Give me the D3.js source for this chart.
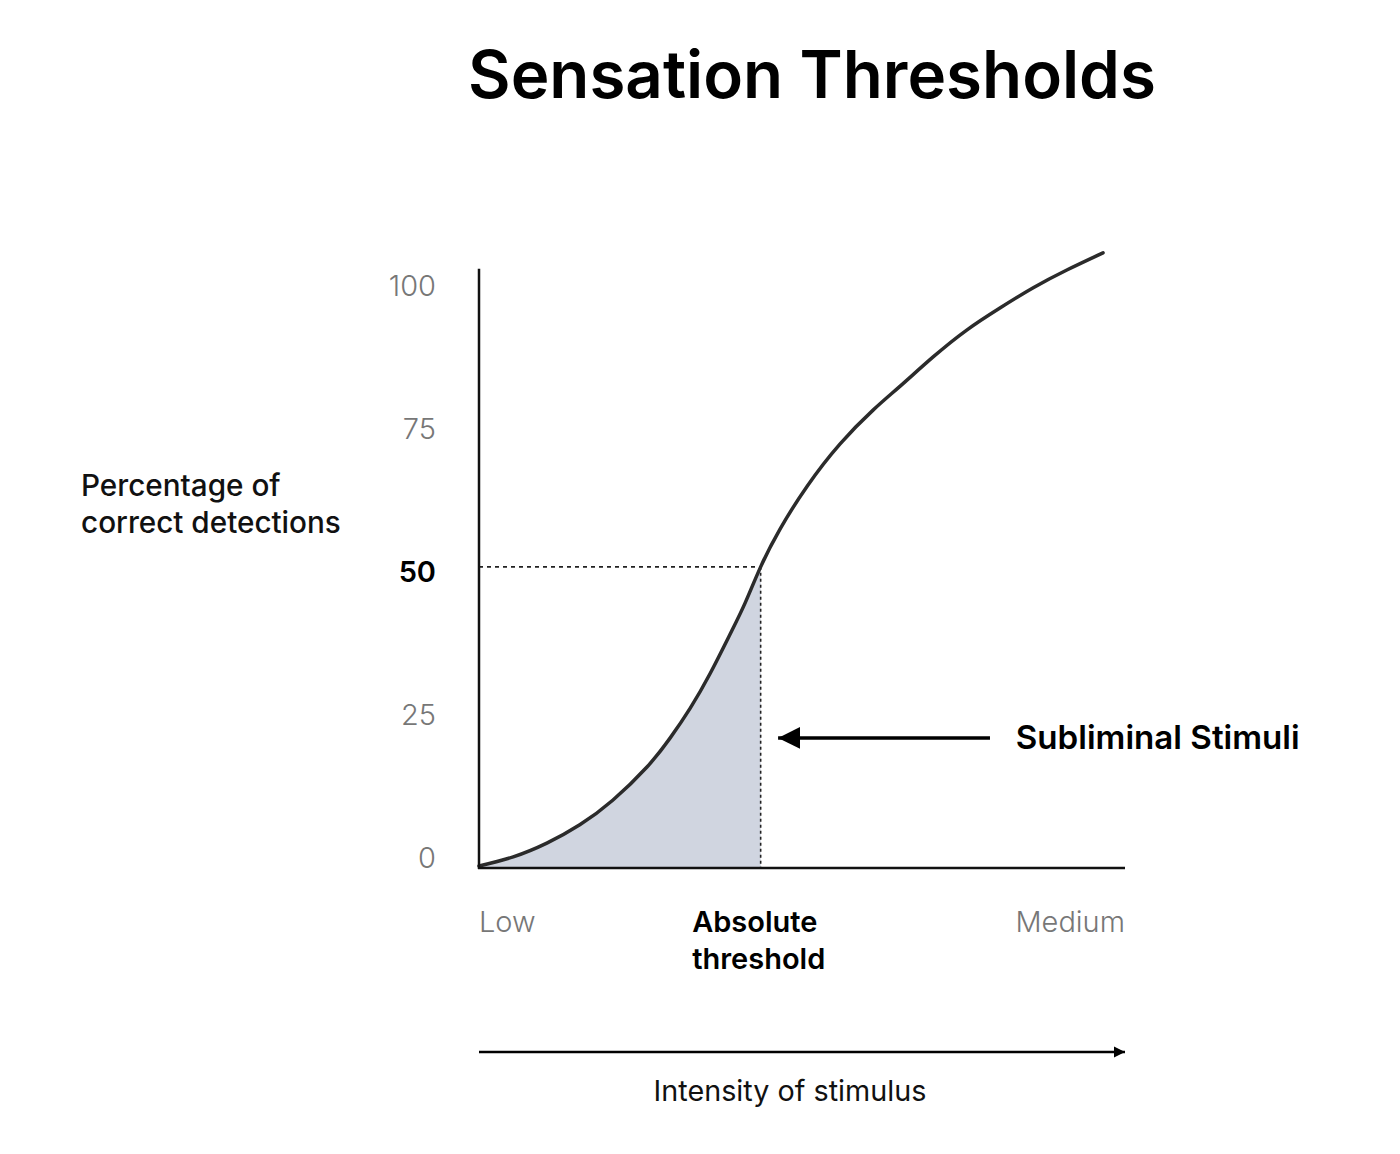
<!DOCTYPE html>
<html lang="en">
<head>
<meta charset="UTF-8">
<title>Sensation Thresholds</title>
<script src="https://cdn.jsdelivr.net/npm/d3@7"></script>
<style>
  body { margin: 0; background: #fff; }
  svg { display: block; font-family: Inter, "Noto Sans", sans-serif; }
</style>
</head>
<body>
<svg id="chart" width="1400" height="1154"></svg>
<script>
// data: x = stimulus intensity (0-100), y = % correct detections
var curveX = [0, 5.3, 10.5, 15.6, 20.7, 26.0, 29.6, 32.7, 35.8, 38.9, 41.2, 43.6,
              46.6, 50.8, 55.9, 61.0, 65.2, 70.3, 75.5, 80.7, 85.8, 91.0, 96.6];
var curveY = [-1.4, 0.2, 2.6, 5.8, 10.1, 15.9, 21.0, 26.2, 32.3, 39.2, 44.6, 50.9,
              57.5, 65.0, 72.4, 78.3, 82.5, 87.6, 92.3, 96.2, 99.7, 102.8, 105.8];
var yTicks = [0, 25, 50, 75, 100];
var xLabels = ["Low", "Absolute threshold", "Medium"];
var xLabelPos = [0, 33, 100];
var threshold = {x: 43.6, y: 50.9};
var yFloor = -1.75, yTop = 103;

var svg = d3.select("#chart");

var x = d3.scaleLinear().domain([0, 100]).range([479, 1125]);
var y = d3.scaleLinear().domain([0, 100]).range([858, 286]);

var points = curveX.map(function (d, i) { return {x: d, y: curveY[i]}; });

// fit a text selection to a width by scaling its font-size
function fit(sel, w) {
  var cur = parseFloat(sel.style("font-size"));
  var len = sel.node().getComputedTextLength();
  sel.style("font-size", (cur * w / len) + "px");
}

var defs = svg.append("defs");
defs.append("marker")
  .attr("id", "headBig")
  .attr("viewBox", "0 0 10 10")
  .attr("refX", 10).attr("refY", 5)
  .attr("markerUnits", "userSpaceOnUse")
  .attr("markerWidth", 22).attr("markerHeight", 26)
  .attr("orient", "auto")
  .append("path").attr("d", "M0,0L10,5L0,10Z").attr("fill", "#000");
defs.append("marker")
  .attr("id", "headSmall")
  .attr("viewBox", "0 0 10 10")
  .attr("refX", 10).attr("refY", 5)
  .attr("markerUnits", "userSpaceOnUse")
  .attr("markerWidth", 11).attr("markerHeight", 12)
  .attr("orient", "auto")
  .append("path").attr("d", "M0,0L10,5L0,10Z").attr("fill", "#000");
defs.append("clipPath").attr("id", "below")
  .append("rect")
  .attr("x", x(0)).attr("y", y(yTop))
  .attr("width", x(threshold.x) - x(0))
  .attr("height", y(yFloor) - y(yTop));

// title
var title = svg.append("text")
  .attr("x", 812).attr("y", 98)
  .attr("text-anchor", "middle")
  .style("font-size", "64px").style("font-weight", 600).attr("fill", "#000")
  .text("Sensation Thresholds");
fit(title, 688);

var curve = d3.curveNatural;

// shaded area below threshold
var area = d3.area()
  .x(function (d) { return x(d.x); })
  .y0(y(yFloor))
  .y1(function (d) { return y(d.y); })
  .curve(curve);

svg.append("path")
  .datum(points)
  .attr("d", area)
  .attr("clip-path", "url(#below)")
  .attr("fill", "#d0d5e0");

// dashed guides
svg.append("line")
  .attr("x1", x(0)).attr("x2", x(threshold.x))
  .attr("y1", y(threshold.y)).attr("y2", y(threshold.y))
  .attr("stroke", "#222").attr("stroke-width", 1.6).attr("stroke-dasharray", "4,4");
svg.append("line")
  .attr("x1", x(threshold.x)).attr("x2", x(threshold.x))
  .attr("y1", y(threshold.y)).attr("y2", y(yFloor))
  .attr("stroke", "#222").attr("stroke-width", 1.6).attr("stroke-dasharray", "3,3");

// curve
var line = d3.line()
  .x(function (d) { return x(d.x); })
  .y(function (d) { return y(d.y); })
  .curve(curve);

svg.append("path")
  .datum(points)
  .attr("d", line)
  .attr("fill", "none")
  .attr("stroke", "#2b2b2b").attr("stroke-width", 3.5).attr("stroke-linecap", "round");

// axes lines
svg.append("line")
  .attr("x1", x(0)).attr("x2", x(0))
  .attr("y1", y(yTop)).attr("y2", y(yFloor) + 1)
  .attr("stroke", "#111").attr("stroke-width", 2.5);
svg.append("line")
  .attr("x1", x(0) - 1).attr("x2", x(100))
  .attr("y1", y(yFloor)).attr("y2", y(yFloor))
  .attr("stroke", "#111").attr("stroke-width", 2.5);

// y tick labels
var yAxis = svg.append("g")
  .attr("transform", "translate(" + x(0) + ",0)")
  .call(d3.axisLeft(y).tickValues(yTicks).tickSize(0).tickPadding(43));
yAxis.select(".domain").remove();
yAxis.selectAll("text")
  .style("font-family", "Inter, sans-serif")
  .style("font-size", "29px")
  .style("font-weight", function (d) { return d === 50 ? 600 : 300; })
  .attr("fill", function (d) { return d === 50 ? "#000" : "#777"; });

// y title
var yTitle = svg.append("text")
  .attr("x", 81).attr("y", 496)
  .style("font-size", "28px").style("font-weight", 500).attr("fill", "#111");
yTitle.append("tspan").attr("x", 81).text("Percentage of");
yTitle.append("tspan").attr("x", 81).attr("dy", 37).text("correct detections");
(function () {
  var t = yTitle.selectAll("tspan").nodes()[1];
  var cur = parseFloat(yTitle.style("font-size"));
  yTitle.style("font-size", (cur * 260 / t.getComputedTextLength()) + "px");
})();

// x labels
xLabels.forEach(function (lab, i) {
  var t = svg.append("text")
    .attr("x", x(xLabelPos[i])).attr("y", 932)
    .attr("text-anchor", i === 2 ? "end" : "start")
    .style("font-size", "29px")
    .style("font-weight", i === 1 ? 600 : 300)
    .attr("fill", i === 1 ? "#000" : "#777");
  if (i === 1) {
    var w = lab.split(" ");
    t.append("tspan").attr("x", x(xLabelPos[i])).text(w[0]);
    t.append("tspan").attr("x", x(xLabelPos[i])).attr("dy", 37).text(w[1]);
  } else {
    t.text(lab);
  }
});

// subliminal stimuli arrow
var subY = 21;
svg.append("line")
  .attr("x1", x(79.1)).attr("x2", x(46.3))
  .attr("y1", y(subY)).attr("y2", y(subY))
  .attr("stroke", "#000").attr("stroke-width", 3.5)
  .attr("marker-end", "url(#headBig)");
var sub = svg.append("text")
  .attr("x", x(83.1)).attr("y", y(subY) + 11)
  .style("font-size", "31px").style("font-weight", 600).attr("fill", "#000")
  .text("Subliminal Stimuli");
fit(sub, 284);

// intensity arrow
svg.append("line")
  .attr("x1", x(0)).attr("x2", x(100))
  .attr("y1", 1052).attr("y2", 1052)
  .attr("stroke", "#000").attr("stroke-width", 2.5)
  .attr("marker-end", "url(#headSmall)");
var intensity = svg.append("text")
  .attr("x", 790).attr("y", 1101)
  .attr("text-anchor", "middle")
  .style("font-size", "28px").style("font-weight", 400).attr("fill", "#111")
  .text("Intensity of stimulus");
fit(intensity, 273);
</script>
</body>
</html>
